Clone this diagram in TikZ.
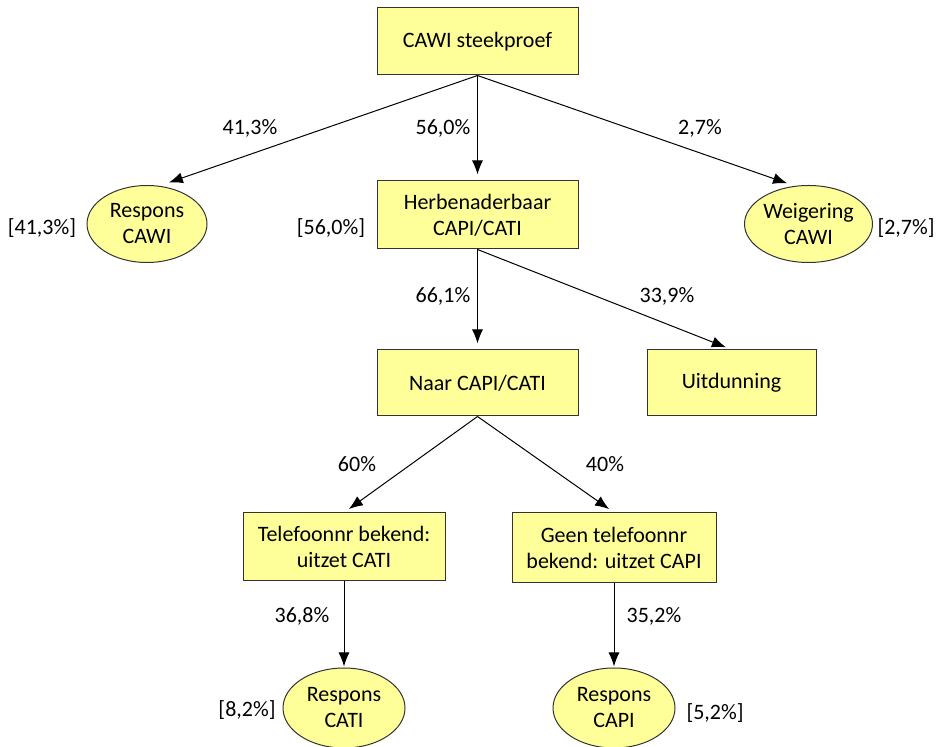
\documentclass[tikz,border=0pt]{standalone}
\usepackage{fontspec}
\setmainfont{Carlito}
\usetikzlibrary{shapes,arrows.meta}
\definecolor{lichtgeel}{RGB}{255,255,153}
\tikzset{
  blok/.style={draw=black!80,fill=lichtgeel,line width=0.5pt,align=center,inner sep=2pt},
  ovaal/.style={ellipse,draw=black!80,fill=lichtgeel,line width=0.5pt,align=center,inner sep=0pt,minimum width=60pt,minimum height=38.5pt},
  pijl/.style={-{Latex[length=7pt,width=5.5pt]},line width=0.5pt,shorten >=3pt},
  perc/.style={inner sep=0pt}
}

\begin{document}
\begin{tikzpicture}[x=0.5pt,y=-0.5pt,font=\fontsize{11}{13}\selectfont]
\useasboundingbox (0,0) rectangle (937,747);

% blokken
\node[blok,minimum width=100.5pt,minimum height=33.5pt] (steekproef) at (477.5,41.5) {CAWI steekproef};
\node[blok,minimum width=100.5pt,minimum height=34pt] (herbenader) at (477.5,215) {Herbenaderbaar\\CAPI/CATI};
\node[blok,minimum width=100.5pt,minimum height=33pt] (naar) at (477.5,383) {Naar CAPI/CATI};
\node[blok,minimum width=84.5pt,minimum height=33pt] (uitdunning) at (731.5,383) {Uitdunning};
\node[blok,minimum width=101pt,minimum height=34pt] (cati) at (344,547) {Telefoonnr bekend:\\uitzet CATI};
\node[blok,minimum width=102pt,minimum height=35pt] (capi) at (614,548) {Geen telefoonnr\\bekend: uitzet CAPI};

% ovalen
\node[ovaal] (respcawi) at (147,224) {Respons\\CAWI};
\node[ovaal] (weigering) at (808.5,224) {Weigering\\CAWI};
\node[ovaal,minimum width=61pt,minimum height=40pt] (respcati) at (344,708) {Respons\\CATI};
\node[ovaal,minimum width=61pt,minimum height=40pt] (respcapi) at (614,708) {Respons\\CAPI};

% pijlen
\draw[pijl,shorten >=5pt] (steekproef.south) -- (respcawi.72);
\draw[pijl] (steekproef.south) -- (herbenader.north);
\draw[pijl,shorten >=4pt] (steekproef.south) -- (weigering.110);
\draw[pijl] (herbenader.south) -- (naar.north);
\draw[pijl] (herbenader.south) -- (uitdunning.north);
\draw[pijl] (naar.south) -- (cati.north);
\draw[pijl] (naar.south) -- (capi.north);
\draw[pijl,shorten >=0.5pt] (cati.south) -- (respcati.north);
\draw[pijl,shorten >=0.5pt] (capi.south) -- (respcapi.north);

% percentages
\node[perc] (p1) at (250,128) {41,3\%};
\node[perc] (p2) at (443,128) {56,0\%};
\node[perc] (p3) at (700,128) {2,7\%};
\node[perc] (p4) at (443,296) {66,1\%};
\node[perc] (p5) at (667,296) {33,9\%};
\node[perc] (p6) at (357,464) {60\%};
\node[perc] (p7) at (605,464) {40\%};
\node[perc] (p8) at (302,616) {36,8\%};
\node[perc] (p9) at (654,616) {35,2\%};

\node[perc] (t1) at (42,228) {[41,3\%]};
\node[perc] (t2) at (331,228) {[56,0\%]};
\node[perc] (t3) at (906,228) {[2,7\%]};
\node[perc] (t4) at (247,710) {[8,2\%]};
\node[perc] (t5) at (715,713) {[5,2\%]};

\end{tikzpicture}
\end{document}
